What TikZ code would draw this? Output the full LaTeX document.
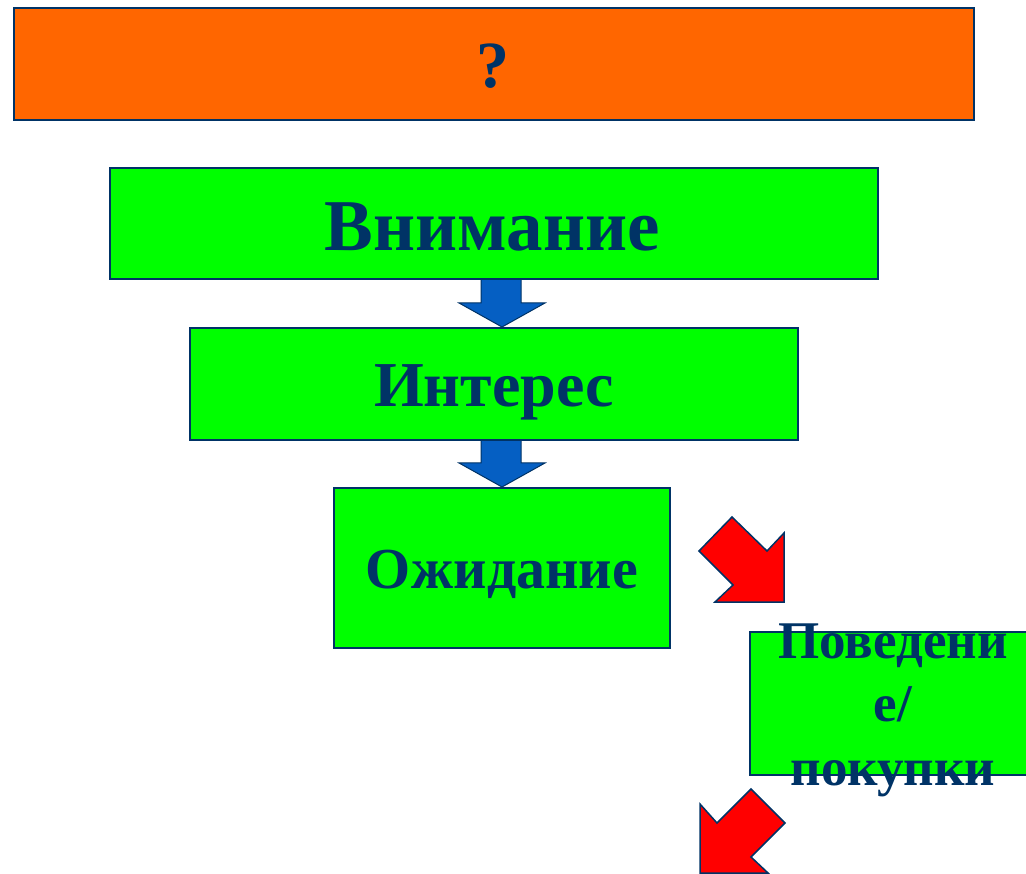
\documentclass[tikz,border=0pt]{standalone}
\usepackage{fontspec}
\setmainfont{Liberation Serif}
\definecolor{navy}{RGB}{0,51,102}
\definecolor{boxgreen}{RGB}{0,255,0}
\definecolor{boxorange}{RGB}{255,102,0}
\definecolor{arrowblue}{RGB}{5,95,195}
\definecolor{arrowred}{RGB}{255,0,0}
\tikzset{
  box/.style={draw=navy, line width=2pt, anchor=north west, inner sep=0pt, outer sep=0pt},
  gbox/.style={box, fill=boxgreen},
  obox/.style={box, fill=boxorange},
  txt/.style={text=navy, anchor=base, inner sep=0pt, font=\bfseries},
  bluearrow/.style={draw=navy, line width=1pt, fill=arrowblue, line join=miter},
  redarrow/.style={draw=navy, line width=1.5pt, fill=arrowred, line join=miter}
}
\begin{document}
\begin{tikzpicture}[x=1pt,y=-1pt]
\useasboundingbox (0,0) rectangle (1026,874);
\clip (0,0) rectangle (1026,874);
% block arrows (drawn first, under the boxes)
\draw[bluearrow] (481,279) -- (521,279) -- (521,303) -- (545,303) -- (502,327) -- (459,303) -- (481,303) -- cycle;
\draw[bluearrow] (481,439) -- (521,439) -- (521,463) -- (545,463) -- (502,487) -- (459,463) -- (481,463) -- cycle;
\draw[redarrow] (732,517) -- (767,551) -- (784,533) -- (784,602) -- (715,602) -- (733,585) -- (699,551) -- cycle;
\draw[redarrow] (751,789) -- (785,823) -- (751,857) -- (768,873) -- (700,873) -- (700,804) -- (717,823) -- cycle;
% boxes
\node[obox, minimum width=960pt, minimum height=112pt] (q) at (14,8) {};
\node[gbox, minimum width=768pt, minimum height=111pt] (b1) at (110,168) {};
\node[gbox, minimum width=608pt, minimum height=112pt] (b2) at (190,328) {};
\node[gbox, minimum width=336pt, minimum height=160pt] (b3) at (334,488) {};
\node[gbox, minimum width=290pt, minimum height=143pt] (b4) at (750,632) {};
% texts
\node[txt, font=\bfseries\fontsize{66}{66}\selectfont] (tq) at (493,88) {?};
\node[txt, font=\bfseries\fontsize{73}{73}\selectfont] (t1) at (492,251) {Внимание};
\node[txt, font=\bfseries\fontsize{64}{64}\selectfont] (t2) at (494,407) {Интерес};
\node[txt, font=\bfseries\fontsize{58}{58}\selectfont] (t3) at (502,588) {Ожидание};
\node[txt, font=\bfseries\fontsize{53}{53}\selectfont] (t4a) at (893,658) {Поведени};
\node[txt, font=\bfseries\fontsize{53}{53}\selectfont] (t4b) at (893,721) {е/};
\node[txt, font=\bfseries\fontsize{53}{53}\selectfont] (t4c) at (893,785) {покупки};
\end{tikzpicture}
\end{document}
